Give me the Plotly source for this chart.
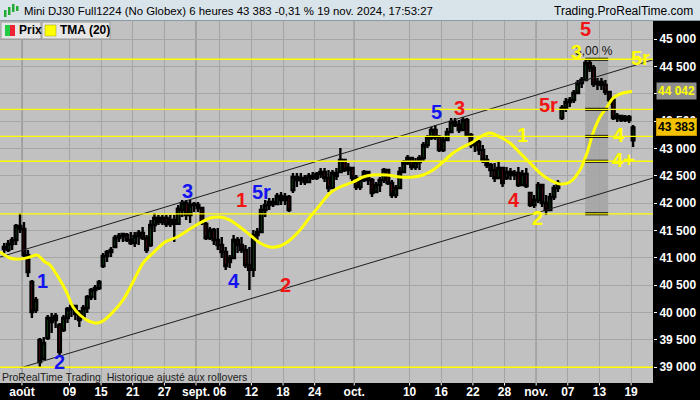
import plotly.graph_objects as go
import pandas as pd

# ---------------- data ----------------
title_text = "Mini DJ30 Full1224 (No Globex) 6 heures 43 383 -0,31 % 19 nov. 2024, 17:53:27"
site_text = "Trading.ProRealTime.com"
footer_text = "ProRealTime Trading  Historique ajusté aux rollovers"

days = [d.strftime('%Y-%m-%d') for d in pd.bdate_range('2024-07-29', '2024-11-19')
        if d.strftime('%Y-%m-%d') != '2024-09-02']
day_pos = {d: i - 3 for i, d in enumerate(days)}   # 2024-08-01 -> 0

opens = [41161, 41143, 41252, 41326, 41582, 41527, 41051, 40560, 40046, 39498,
         39150, 39534, 39900, 39863, 39772, 39681, 39900, 40064, 40119, 40010,
         39900, 40083, 40284, 40412, 40448, 40850, 41033, 41106, 41198, 41362,
         41399, 41417, 41326, 41271, 41399, 41454, 41362, 41234, 41600, 41728,
         41655, 41728, 41618, 41691, 41620, 41874, 42002, 41783, 41966, 41966,
         41911, 41618, 41362, 41508, 41326, 41234, 41106, 40924, 40997, 41326,
         41234, 41143, 40869, 40780, 41417, 41472, 41874, 41966, 42020, 41984,
         42130, 42057, 42112, 42240, 42477, 42423, 42459, 42386, 42496, 42459,
         42532, 42569, 42459, 42276, 42550, 42569, 42788, 42605, 42642, 42459,
         42295, 42423, 42569, 42423, 42203, 42331, 42423, 42605, 42368, 42148,
         42276, 42569, 42733, 42824, 42660, 42751, 42824, 43062, 43190, 43337,
         43209, 42971, 43154, 43300, 43483, 43428, 43337, 43519, 43245, 43062,
         43117, 42971, 42788, 42697, 42605, 42459, 42642, 42459, 42569, 42514,
         42550, 42331, 42532, 42185, 41966, 42057, 42331, 42002, 41874, 42112,
         42276, 43555, 43739, 43848, 43885, 44013, 44195, 44250, 44561, 44470,
         44177, 44214, 44159, 44031, 43885, 43555, 43592, 43519, 43574, 43150]
highs = [41271, 41326, 41381, 41618, 41819, 41655, 41143, 40595, 40284, 39534,
         39553, 39955, 39991, 39991, 39808, 39955, 40101, 40174, 40138, 40046,
         40138, 40320, 40448, 40503, 40595, 41088, 41143, 41198, 41417, 41454,
         41454, 41454, 41472, 41472, 41508, 41563, 41417, 41691, 41819, 41783,
         41783, 41783, 41783, 41783, 41966, 42057, 42057, 42057, 42020, 42020,
         41929, 41655, 41563, 41545, 41545, 41381, 41198, 41051, 41417, 41381,
         41381, 41234, 41198, 41508, 41545, 41966, 42057, 42094, 42094, 42185,
         42203, 42185, 42148, 42550, 42550, 42550, 42514, 42550, 42569, 42569,
         42642, 42642, 42605, 42605, 42642, 43007, 42806, 42733, 42642, 42514,
         42477, 42605, 42569, 42459, 42386, 42477, 42642, 42605, 42423, 42331,
         42660, 42788, 42879, 42824, 42824, 42879, 43117, 43245, 43391, 43428,
         43245, 43209, 43374, 43555, 43555, 43519, 43574, 43555, 43282, 43154,
         43154, 43062, 42879, 42733, 42733, 42751, 42660, 42660, 42642, 42605,
         42660, 42605, 42642, 42203, 42148, 42386, 42331, 42148, 42185, 42331,
         42423, 43793, 43921, 43940, 44068, 44250, 44305, 44616, 44616, 44525,
         44287, 44287, 44250, 44031, 43921, 43647, 43611, 43611, 43611, 43428]
lows = [41088, 41106, 41143, 41234, 41454, 41015, 40649, 39900, 39991, 39004,
        39132, 39498, 39626, 39717, 39223, 39644, 39808, 39918, 39863, 39735,
        39900, 39991, 40229, 40229, 40412, 40814, 40924, 41015, 41198, 41289,
        41289, 41289, 41234, 41198, 41234, 41326, 41088, 41198, 41472, 41600,
        41600, 41563, 41563, 41289, 41600, 41746, 41691, 41637, 41838, 41838,
        41600, 41326, 41326, 41234, 41143, 40997, 40777, 40814, 40997, 41088,
        41088, 40814, 40412, 40649, 41326, 41472, 41746, 41874, 41929, 41966,
        41966, 41966, 41838, 42185, 42295, 42331, 42331, 42368, 42423, 42423,
        42459, 42386, 42203, 42276, 42423, 42550, 42569, 42514, 42386, 42240,
        42240, 42386, 42331, 42112, 42203, 42203, 42368, 42331, 42094, 42094,
        42276, 42550, 42697, 42605, 42605, 42605, 42751, 43007, 43154, 43154,
        42934, 42934, 43154, 43282, 43391, 43282, 43337, 43209, 43007, 42934,
        42879, 42733, 42642, 42477, 42386, 42459, 42295, 42423, 42423, 42423,
        42295, 42331, 42276, 41929, 41911, 42002, 41929, 41783, 41874, 42057,
        42203, 43519, 43666, 43757, 43830, 44013, 44104, 44250, 44397, 44123,
        44068, 44068, 43976, 43793, 43519, 43483, 43483, 43483, 43465, 43026]
closes = [41198, 41252, 41326, 41582, 41527, 41051, 40740, 40010, 40229, 39095,
          39443, 39900, 39827, 39937, 39278, 39900, 40064, 40119, 39973, 39863,
          40083, 40284, 40412, 40448, 40558, 41033, 41106, 41143, 41362, 41399,
          41436, 41326, 41271, 41399, 41454, 41362, 41143, 41600, 41728, 41655,
          41728, 41618, 41691, 41620, 41900, 42002, 41783, 41966, 41984, 41911,
          41655, 41362, 41508, 41326, 41234, 41106, 40850, 40997, 41326, 41234,
          41143, 40869, 40780, 41417, 41472, 41874, 41966, 42020, 41984, 42130,
          42057, 42112, 41874, 42477, 42423, 42459, 42386, 42496, 42459, 42532,
          42569, 42459, 42276, 42550, 42496, 42788, 42605, 42642, 42459, 42295,
          42423, 42569, 42423, 42185, 42331, 42423, 42605, 42368, 42148, 42276,
          42569, 42733, 42824, 42660, 42751, 42824, 43062, 43190, 43337, 43209,
          42971, 43154, 43300, 43483, 43428, 43337, 43519, 43245, 43062, 43117,
          42971, 42788, 42697, 42605, 42459, 42642, 42368, 42569, 42514, 42550,
          42331, 42532, 42313, 41966, 42057, 42331, 42002, 41874, 42112, 42276,
          42368, 43739, 43848, 43885, 44013, 44195, 44250, 44561, 44470, 44177,
          44214, 44159, 44031, 43885, 43555, 43592, 43519, 43574, 43519, 43383]

# TMA(20) (day position, value)
tma_day = [-2.78, -1.52, -0.25, 1.01, 1.90, 2.91, 3.54, 4.80, 5.69, 6.45,
           7.33, 8.22, 9.48, 10.24, 11.50, 12.77, 14.03, 15.30, 16.56, 18.08,
           19.60, 21.62, 23.77, 25.03, 26.30, 27.56, 28.83, 30.09, 31.35, 32.62,
           33.88, 35.15, 36.41, 37.67, 38.94, 40.20, 41.85, 43.11, 44.37, 46.14,
           47.79, 49.43, 50.70, 51.96, 53.22, 54.49, 55.75, 57.02, 57.90, 59.16,
           60.43, 61.69, 62.96, 64.22, 65.49, 66.75, 68.02, 69.28, 70.54, 71.43,
           72.19, 73.07, 73.96, 74.72, 75.98, 77.12]
tma_val = [41106, 40997, 40978, 41015, 41051, 40924, 40869, 40595, 40357, 40101,
           39955, 39863, 39808, 39845, 40010, 40229, 40558, 40905, 41088, 41289,
           41381, 41563, 41728, 41746, 41691, 41563, 41417, 41271, 41198, 41216,
           41326, 41508, 41746, 41966, 42185, 42295, 42386, 42477, 42514, 42514,
           42477, 42477, 42514, 42605, 42751, 42916, 43026, 43117, 43209, 43282,
           43209, 43099, 42916, 42733, 42550, 42423, 42350, 42386, 42605, 42916,
           43282, 43574, 43757, 43921, 44013, 44042]

last_price = 43383
last_tma = 44042

tick_dates = ['2024-08-01', '2024-08-09', '2024-08-15', '2024-08-21', '2024-08-27',
              '2024-09-03', '2024-09-06', '2024-09-12', '2024-09-18', '2024-09-24',
              '2024-10-01', '2024-10-10', '2024-10-16', '2024-10-22', '2024-10-28',
              '2024-11-01', '2024-11-07', '2024-11-13', '2024-11-19']
tick_text = ['août', '09', '15', '21', '27', 'sept.', '06', '12', '18', '24',
             'oct.', '10', '16', '22', '28', 'nov.', '07', '13', '19']
month_dates = ['2024-08-01', '2024-09-03', '2024-10-01', '2024-11-01']

# the 44 000 label is hidden behind the TMA value box in the original
y_tick_vals = [39000, 39500, 40000, 40500, 41000, 41500, 42000, 42500, 43000,
               43500, 44000, 44500, 45000]
y_tick_text = ['39 000', '39 500', '40 000', '40 500', '41 000', '41 500', '42 000',
               '42 500', '43 000', '43 500', '', '44 500', '45 000']

yellow_levels = [44630, 43715, 43220, 42765, 41805, 39000]

chan_upper_day = [-2.78, 79.77]
chan_upper_val = [41015, 44620]
chan_lower_day = [-0.25, 79.77]
chan_lower_val = [38986, 42459]

measure_day = [71.2, 74.1]
measure_levels = [44630, 43715, 43220, 42765, 41805]
measure_text = "3,00 %"

wave_text = ['1', '2', '3', '4', '5r', '1', '2', '5', '3', '1', '4', '2', '5r', '5', '3', '5r', '4', '4+']
wave_day = [2.65, 4.68, 20.86, 26.80, 30.34, 27.81, 33.25, 52.34, 55.25, 63.21, 62.20, 65.23,
            66.62, 71.18, 70.16, 78.25, 75.47, 76.10]
wave_val = [40576, 39096, 42222, 40576, 42203, 42057, 40503, 43666, 43739, 43245, 42057, 41728,
            43793, 45183, 44762, 44653, 43245, 42788]
wave_col = ['blue', 'blue', 'blue', 'blue', 'blue', 'red', 'red', 'blue', 'red', 'yellow', 'red',
            'yellow', 'red', 'red', 'yellow', 'yellow', 'yellow', 'yellow']

# ---------------- geometry ----------------
W, H = 700, 400
ML, MR, MT, MB = 0, 47, 21, 17
PW, PH = W - ML - MR, H - MT - MB
x_range = [-2.78, 79.77]
y_range = [38712, 45329]


def px(x):
    return (x - ML) / PW


def py(y):
    return (H - MB - y) / PH


bar_x = [day_pos[days[0]] + 0.75]
for d in days[1:-1]:
    bar_x += [day_pos[d] + 0.25, day_pos[d] + 0.75]
bar_x.append(day_pos[days[-1]] + 0.25)

colors = {'blue': '#1414f0', 'red': '#f01414', 'yellow': '#ffff00'}
FONT = 'Liberation Sans, Arial, sans-serif'

fig = go.Figure()

fig.add_trace(go.Scatter(x=chan_upper_day, y=chan_upper_val, mode='lines',
                         line=dict(color='#1e1e1e', width=1), hoverinfo='skip'))
fig.add_trace(go.Scatter(x=chan_lower_day, y=chan_lower_val, mode='lines',
                         line=dict(color='#1e1e1e', width=1), hoverinfo='skip'))

fig.add_trace(go.Candlestick(
    x=bar_x, open=opens, high=highs, low=lows, close=closes,
    increasing=dict(line=dict(color='black', width=2.4), fillcolor='#22dd33'),
    decreasing=dict(line=dict(color='black', width=2.4), fillcolor='#ff2030'),
    whiskerwidth=0))

fig.add_trace(go.Scatter(x=tma_day, y=tma_val, mode='lines',
                         line=dict(color='#ffff00', width=3, shape='spline', smoothing=0.8),
                         hoverinfo='skip'))

shapes = []
for m in month_dates:
    shapes.append(dict(type='line', xref='x', yref='paper', x0=day_pos[m], x1=day_pos[m],
                       y0=0, y1=1, line=dict(color='#7a7a7a', width=1), layer='below'))
shapes.append(dict(type='rect', xref='x', yref='y', x0=measure_day[0], x1=measure_day[1],
                   y0=min(measure_levels), y1=max(measure_levels),
                   fillcolor='rgba(0,0,0,0.13)', line=dict(width=0), layer='below'))
for lv in measure_levels:
    shapes.append(dict(type='line', xref='x', yref='y', x0=measure_day[0], x1=measure_day[1],
                       y0=lv, y1=lv, line=dict(color='black', width=3)))
for lv in yellow_levels:
    shapes.append(dict(type='line', xref='paper', yref='y', x0=0, x1=1, y0=lv, y1=lv,
                       line=dict(color='#ffff00', width=1.3)))
# title bar
shapes.append(dict(type='rect', xref='paper', yref='paper', x0=px(0), x1=px(W),
                   y0=py(MT), y1=py(0), fillcolor='#d9e3ea', line=dict(width=0)))
shapes.append(dict(type='line', xref='paper', yref='paper', x0=px(0), x1=px(W),
                   y0=py(MT - 0.5), y1=py(MT - 0.5), line=dict(color='#8c9aa6', width=1)))
for (x0, y0, y1, c) in [(4, 10, 17, '#22aa33'), (8, 7, 15, '#22aa33'), (12, 4, 12, '#22aa33'),
                        (16, 6, 11, '#22aa33')]:
    shapes.append(dict(type='rect', xref='paper', yref='paper', x0=px(x0), x1=px(x0 + 2.5),
                       y0=py(y1), y1=py(y0), fillcolor=c, line=dict(width=0)))
# legend cells
shapes.append(dict(type='rect', xref='paper', yref='paper', x0=px(1), x1=px(41),
                   y0=py(39), y1=py(22), fillcolor='#e6e6e6', line=dict(color='#9a9a9a', width=1)))
shapes.append(dict(type='rect', xref='paper', yref='paper', x0=px(42), x1=px(110),
                   y0=py(39), y1=py(22), fillcolor='#e6e6e6', line=dict(color='#9a9a9a', width=1)))
shapes.append(dict(type='rect', xref='paper', yref='paper', x0=px(5), x1=px(10),
                   y0=py(36), y1=py(25), fillcolor='#22cc44', line=dict(width=0)))
shapes.append(dict(type='rect', xref='paper', yref='paper', x0=px(10), x1=px(15),
                   y0=py(36), y1=py(25), fillcolor='#ee2233', line=dict(width=0)))
shapes.append(dict(type='rect', xref='paper', yref='paper', x0=px(45), x1=px(56),
                   y0=py(36), y1=py(25), fillcolor='#ffff00', line=dict(color='#999900', width=0.5)))
for d in tick_dates:
    shapes.append(dict(type='line', xref='x', yref='paper', x0=day_pos[d], x1=day_pos[d],
                       y0=py(H - MB), y1=py(H - MB + 2.5), line=dict(color='white', width=1)))

annotations = []
annotations.append(dict(xref='paper', yref='paper', x=px(22), y=py(10.5), xanchor='left',
                        yanchor='middle', text=title_text, showarrow=False,
                        font=dict(family=FONT, size=11.4, color='black')))
annotations.append(dict(xref='paper', yref='paper', x=px(695), y=py(10.5), xanchor='right',
                        yanchor='middle', text=site_text, showarrow=False,
                        font=dict(family=FONT, size=12, color='black')))
annotations.append(dict(xref='paper', yref='paper', x=px(17), y=py(30.5), xanchor='left',
                        yanchor='middle', text='Prix', showarrow=False,
                        font=dict(family=FONT, size=12, color='black', weight='bold')))
annotations.append(dict(xref='paper', yref='paper', x=px(58), y=py(30.5), xanchor='left',
                        yanchor='middle', text='TMA (20)', showarrow=False,
                        font=dict(family=FONT, size=12, color='black', weight='bold')))
annotations.append(dict(xref='paper', yref='paper', x=px(0), y=py(377), xanchor='left',
                        yanchor='middle', text=footer_text, showarrow=False,
                        font=dict(family=FONT, size=10.5, color='#202020')))
annotations.append(dict(xref='x', yref='y', x=72.35,
                        y=44781, text=measure_text, showarrow=False,
                        font=dict(family=FONT, size=12, color='#111111')))
for t, d, v, c in zip(wave_text, wave_day, wave_val, wave_col):
    annotations.append(dict(xref='x', yref='y', x=d, y=v, text=t, showarrow=False,
                            font=dict(family=FONT, size=20, color=colors[c], weight='bold')))
annotations.append(dict(xref='paper', yref='y', x=px(656), y=last_tma, xanchor='left',
                        text='44 042', showarrow=False, bgcolor='#8e8e8e', borderpad=1,
                        font=dict(family=FONT, size=12, color='#ffff00', weight='bold')))
annotations.append(dict(xref='paper', yref='y', x=px(656), y=last_price, xanchor='left',
                        text='43 383', showarrow=False, bgcolor='#f2c200', borderpad=1,
                        bordercolor='#c89600', borderwidth=1,
                        font=dict(family=FONT, size=12, color='black', weight='bold')))

fig.update_layout(
    width=W, height=H, margin=dict(l=ML, r=MR, t=MT, b=MB, autoexpand=False),
    paper_bgcolor='black', plot_bgcolor='#c1c1c1', showlegend=False,
    boxgap=0.05,
    xaxis=dict(range=x_range, tickvals=[day_pos[d] for d in tick_dates], ticktext=tick_text,
               tickfont=dict(family=FONT, size=12, color='white', weight='bold'),
               showgrid=True, gridcolor='#a4a4a4', gridwidth=1, zeroline=False,
               ticks='', showline=False,
               rangeslider=dict(visible=False), automargin=False),
    yaxis=dict(range=y_range, side='right', tickvals=y_tick_vals, ticktext=y_tick_text,
               tickfont=dict(family=FONT, size=12, color='white', weight='bold'),
               showgrid=True, gridcolor='#a6a6a6', gridwidth=1, zeroline=False,
               ticks='outside', ticklen=3, tickcolor='white', showline=False, automargin=False),
    shapes=shapes, annotations=annotations,
)

fig.write_html("out.html", config={'displayModeBar': False},
               post_script="document.body.style.margin='0px';document.body.style.overflow='hidden';")
